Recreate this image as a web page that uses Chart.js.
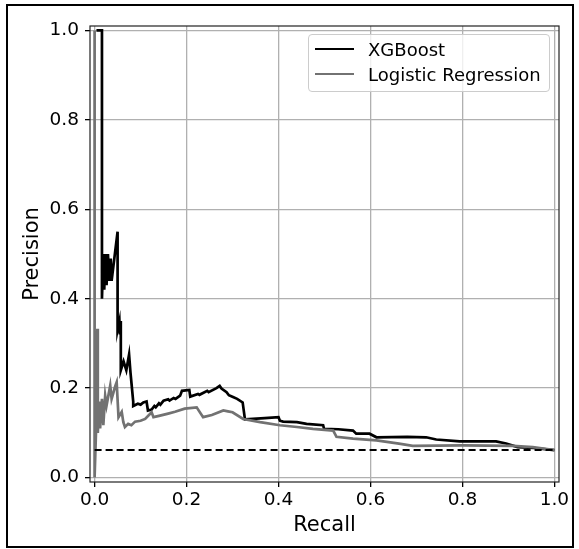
<!DOCTYPE html>
<html><head><meta charset="utf-8">
<script src="https://cdn.jsdelivr.net/npm/chart.js@4"></script>
<style>
html,body{margin:0;padding:0;background:#fff;}
#wrap{position:relative;width:579px;height:549px;overflow:hidden;}
#frame{position:absolute;left:6px;top:4px;width:564px;height:540px;border:2px solid #000;pointer-events:none;}
canvas{position:absolute;left:0;top:0;}
#legend{position:absolute;left:308px;top:34px;width:240px;height:56px;border:1px solid #cccccc;border-radius:4px;background:rgba(255,255,255,0.8);font-family:'DejaVu Sans';font-size:18px;color:#000;}
#legend .sw{position:absolute;left:6px;width:39px;height:2.6px;}
#legend .tx{position:absolute;left:59px;line-height:20px;white-space:nowrap;}
</style>
</head><body>
<div id="wrap">
<canvas id="c" width="579" height="549"></canvas>
<div id="legend"></div>
<div id="frame"></div>
</div>
<script>
// ---- data ----
const seriesNames = ["XGBoost", "Logistic Regression"];
const xgbRecall =    [0.004, 0.016, 0.016, 0.019, 0.021, 0.023, 0.026, 0.029, 0.032, 0.035, 0.037, 0.050, 0.050, 0.054, 0.055, 0.057, 0.057, 0.063, 0.069, 0.075, 0.078, 0.084, 0.084, 0.094, 0.100, 0.106, 0.113, 0.116, 0.124, 0.130, 0.133, 0.140, 0.143, 0.150, 0.160, 0.163, 0.172, 0.176, 0.186, 0.190, 0.206, 0.208, 0.225, 0.228, 0.245, 0.248, 0.265, 0.272, 0.276, 0.287, 0.292, 0.301, 0.310, 0.322, 0.327, 0.370, 0.400, 0.403, 0.410, 0.440, 0.461, 0.497, 0.499, 0.530, 0.562, 0.569, 0.598, 0.613, 0.680, 0.721, 0.743, 0.794, 0.873, 0.895, 0.920, 0.955, 1.000];
const xgbPrecision = [1.000, 1.000, 0.400, 0.500, 0.420, 0.500, 0.430, 0.500, 0.440, 0.490, 0.440, 0.550, 0.330, 0.350, 0.320, 0.350, 0.240, 0.260, 0.240, 0.275, 0.235, 0.170, 0.160, 0.165, 0.163, 0.168, 0.170, 0.150, 0.152, 0.160, 0.157, 0.166, 0.163, 0.172, 0.175, 0.172, 0.178, 0.176, 0.183, 0.194, 0.196, 0.181, 0.187, 0.185, 0.194, 0.191, 0.200, 0.205, 0.199, 0.191, 0.184, 0.180, 0.176, 0.168, 0.130, 0.133, 0.135, 0.127, 0.125, 0.124, 0.120, 0.117, 0.109, 0.108, 0.105, 0.098, 0.098, 0.090, 0.091, 0.090, 0.085, 0.081, 0.081, 0.076, 0.068, 0.066, 0.0615];
const lrRecall =     [0.000, 0.000, 0.003, 0.006, 0.007, 0.010, 0.012, 0.016, 0.019, 0.023, 0.026, 0.034, 0.037, 0.0445, 0.048, 0.052, 0.059, 0.0625, 0.066, 0.073, 0.080, 0.088, 0.100, 0.110, 0.124, 0.128, 0.140, 0.160, 0.175, 0.196, 0.222, 0.236, 0.255, 0.280, 0.290, 0.300, 0.323, 0.360, 0.403, 0.440, 0.475, 0.519, 0.526, 0.562, 0.613, 0.662, 0.692, 0.800, 0.910, 0.953, 1.000];
const lrPrecision =  [1.000, 0.000, 0.100, 0.333, 0.100, 0.170, 0.110, 0.176, 0.117, 0.183, 0.161, 0.206, 0.176, 0.203, 0.213, 0.135, 0.147, 0.124, 0.113, 0.120, 0.117, 0.125, 0.127, 0.131, 0.146, 0.135, 0.138, 0.143, 0.147, 0.154, 0.157, 0.135, 0.140, 0.150, 0.148, 0.146, 0.131, 0.124, 0.117, 0.113, 0.109, 0.105, 0.091, 0.087, 0.083, 0.076, 0.071, 0.072, 0.071, 0.068, 0.0615];
const baselineRecall = [0, 1];
const baselinePrecision = [0.0615, 0.0615];
const xTickValues = [0, 0.2, 0.4, 0.6, 0.8, 1.0];
const yTickValues = [0, 0.2, 0.4, 0.6, 0.8, 1.0];
const xAxisTitle = "Recall";
const yAxisTitle = "Precision";

const toPts = (xs, ys) => xs.map((x, i) => ({x: x, y: ys[i]}));
const colors = ["#000000", "#727272"];

// legend (html)
const lg = document.getElementById('legend');
seriesNames.forEach((n, i) => {
  const sw = document.createElement('div'); sw.className = 'sw';
  sw.style.top = (14 - 1.3 + i * 25) + 'px'; sw.style.background = colors[i];
  const tx = document.createElement('div'); tx.className = 'tx';
  tx.style.top = (4.5 + i * 25) + 'px'; tx.textContent = n;
  lg.appendChild(sw); lg.appendChild(tx);
});

const framePlugin = {
  id: 'axframe',
  afterDatasetsDraw(chart) {
    const a = chart.chartArea, ctx = chart.ctx;
    ctx.save(); ctx.strokeStyle = '#222'; ctx.lineWidth = 1.2;
    ctx.strokeRect(a.left, a.top, a.right - a.left, a.bottom - a.top);
    ctx.restore();
  }
};

const font = {family: 'DejaVu Sans', size: 18.5};
new Chart(document.getElementById('c'), {
  type: 'line',
  data: {
    datasets: [
      {label: seriesNames[0], data: toPts(xgbRecall, xgbPrecision), borderColor: colors[0], borderWidth: 2.7, pointRadius: 0, tension: 0, fill: false, order: 3},
      {label: seriesNames[1], data: toPts(lrRecall, lrPrecision), borderColor: colors[1], borderWidth: 2.7, pointRadius: 0, tension: 0, fill: false, order: 2},
      {label: 'baseline', data: toPts(baselineRecall, baselinePrecision), borderColor: '#000', borderWidth: 2, borderDash: [7, 4], pointRadius: 0, fill: false, order: 1}
    ]
  },
  options: {
    responsive: false, animation: false, clip: false,
    layout: {padding: {left: 0, top: 26, right: 20, bottom: 0}},
    plugins: {legend: {display: false}, tooltip: {enabled: false}},
    scales: {
      x: {
        type: 'linear', min: -0.01, max: 1.01,
        afterFit(s) { s.height = 67; },
        afterBuildTicks(s) { s.ticks = xTickValues.map(v => ({value: v})); },
        ticks: {callback: v => v.toFixed(1), color: '#000', font: font, padding: 2, maxRotation: 0},
        grid: {color: '#b0b0b0', lineWidth: 1.3, tickColor: '#000', tickLength: 5},
        border: {display: false},
        title: {display: true, text: xAxisTitle, color: '#000', font: {family: 'DejaVu Sans', size: 21}, padding: {top: 0, bottom: 11}}
      },
      y: {
        type: 'linear', min: -0.01, max: 1.01,
        afterFit(s) { s.width = 90; },
        afterBuildTicks(s) { s.ticks = yTickValues.map(v => ({value: v})); },
        ticks: {callback: v => v.toFixed(1), color: '#000', font: font, padding: 6},
        grid: {color: '#b0b0b0', lineWidth: 1.3, tickColor: '#000', tickLength: 5},
        border: {display: false},
        title: {display: true, text: yAxisTitle, color: '#000', font: {family: 'DejaVu Sans', size: 21}, padding: {top: 20, bottom: 0}}
      }
    }
  },
  plugins: [framePlugin]
});
</script>
</body></html>
